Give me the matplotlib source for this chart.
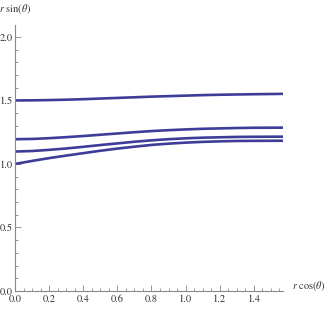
import numpy as np
import matplotlib.pyplot as plt
from matplotlib.ticker import MultipleLocator

plt.rcParams['mathtext.fontset'] = 'stix'
plt.rcParams['font.family'] = 'STIXGeneral'

# r cos(theta) sample points
x = [0.0, 0.1, 0.2, 0.3, 0.4, 0.5, 0.6, 0.7, 0.8, 0.9, 1.0, 1.1, 1.2, 1.3, 1.4, 1.5708]

# r sin(theta) for each curve
y_a = [1.500, 1.501, 1.503, 1.506, 1.510, 1.515, 1.520, 1.525, 1.530, 1.534,
       1.538, 1.542, 1.545, 1.547, 1.549, 1.552]
y_b = [1.195, 1.197, 1.203, 1.211, 1.220, 1.230, 1.240, 1.250, 1.259, 1.266,
       1.272, 1.277, 1.280, 1.283, 1.285, 1.286]
y_c = [1.098, 1.102, 1.111, 1.122, 1.135, 1.149, 1.162, 1.175, 1.186, 1.195,
       1.202, 1.207, 1.210, 1.213, 1.214, 1.215]
y_d = [1.000, 1.024, 1.046, 1.066, 1.085, 1.104, 1.121, 1.136, 1.150, 1.160,
       1.168, 1.174, 1.178, 1.181, 1.182, 1.183]

curves = [y_a, y_b, y_c, y_d]

fig = plt.figure(figsize=(3.27, 3.09), dpi=100)
ax = fig.add_axes([15 / 327, 1 - 291 / 309, 268 / 327, 266 / 309])

for yy in curves:
    ax.plot(x, yy, color='#3d3d99', lw=1.9, solid_capstyle='butt', clip_on=False)

ax.set_xlim(0, np.pi / 2)
ax.set_ylim(0, 2.094)

for s in ['top', 'right']:
    ax.spines[s].set_visible(False)
for s in ['left', 'bottom']:
    ax.spines[s].set_color('#888888')
    ax.spines[s].set_linewidth(0.8)

ax.xaxis.set_major_locator(MultipleLocator(0.2))
ax.xaxis.set_minor_locator(MultipleLocator(0.05))
ax.yaxis.set_major_locator(MultipleLocator(0.5))
ax.yaxis.set_minor_locator(MultipleLocator(0.1))
ax.xaxis.set_major_formatter(plt.FuncFormatter(lambda v, p: f'{v:.1f}'))
ax.yaxis.set_major_formatter(plt.FuncFormatter(lambda v, p: f'{v:.1f}'))

ax.tick_params(which='both', direction='in', color='#888888', width=0.6,
               labelsize=7.5, labelcolor='#333333', pad=1.5)
ax.tick_params(axis='x', pad=2.5)
ax.tick_params(which='major', length=4)
ax.tick_params(which='minor', length=2)

ax.text(0.0, 1.06, r'$r\ \sin(\theta)$', transform=ax.transAxes,
        ha='center', va='center', fontsize=7.5, color='#333333')
ax.text(1.035, 0.02, r'$r\ \cos(\theta)$', transform=ax.transAxes,
        ha='left', va='center', fontsize=7.5, color='#333333')

fig.savefig('out.png', dpi=100)
